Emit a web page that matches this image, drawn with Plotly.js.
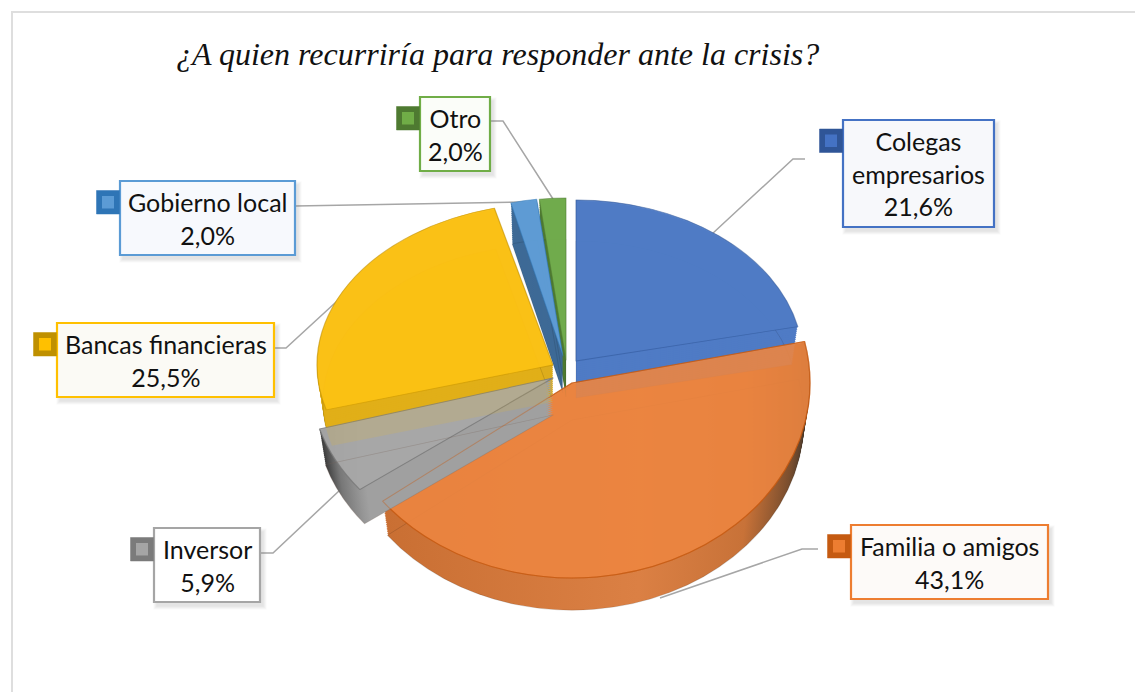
<!DOCTYPE html>
<html><head><meta charset="utf-8">
<script src="https://cdn.plot.ly/plotly-3.0.1.min.js"></script>
<style>html,body{margin:0;padding:0;background:#fff}#c{width:1135px;height:692px}</style>
</head><body><div id="c"></div>
<script>
const categories = ['Colegas<br>empresarios','Familia o amigos','Inversor','Bancas financieras','Gobierno local','Otro'];
const values = [21.6,43.1,5.9,25.5,2.0,2.0];
const faceColors = ['rgba(79,123,197,.95)','rgba(236,133,64,.9)','rgba(168,168,168,.95)','rgba(251,193,23,.97)','rgba(95,157,214,.97)','rgba(114,172,77,.97)'];
const wallColors = ['#4F7BC5','#DB7E42','#A0A0A0','#DDAD1C','#3E6A96','#4F7A32'];
const edgeColors = ['rgba(47,85,151,.55)','rgba(197,90,17,.75)','rgba(120,120,120,.8)','rgba(191,144,0,.6)','rgba(46,117,182,.5)','rgba(78,122,49,.5)'];
const boxColors = ['#4472C4','#ED7D31','#A5A5A5','#FFC000','#5B9BD5','#70AD47'];
const swatchColors = ['#2F5597','#C55A11','#7B7B7B','#BF9000','#2E75B6','#4E7A31'];
const boxFills = ['#F7F8FB','#FDFAF8','#FFFFFF','#FBFAF5','#F7F9FD','#FBFDF9'];
// per-slice box geometry: left, top, right, bottom
const boxes = [[843,120,994,227],[851,525,1048,599],[154,528,260,602],[57,323,274,397],[120,181,295,255],[420,97,490,171]];
const leaders = [
  'M805,159 L793,159 L712,234','M818,549 L802,549 L660,598','M260,553 L273,553 L340,490',
  'M274,348 L286,348 L360,280','M295,206 L525,202','M491,121 L503,121 L553,199'];
// perspective of each slice: apex x, apex y, half width, half height
const view = [[576,361,227,161],[572,383,238,195],[553,378,243,184],[553,365,236,162],[563,356,210,158],[566,360,213,162]];
const DEPTH = 37, STEP = 2, SHRINK = 0.025, R = 230, W = 1135, H = 692;
const px = x => x/W, py = y => 1-y/H;

const base = {type:'pie',labels:categories,values:values,sort:false,direction:'clockwise',rotation:0,
  textinfo:'none',hoverinfo:'skip',showlegend:false,
  domain:{x:[px(575-R),px(575+R)],y:[py(385+R),py(385-R)]}};
const clear = 'rgba(0,0,0,0)';
const none = values.map(()=>clear);
const only = (src,keep) => src.map((c,i)=>keep(i)?c:clear);
const traces = [], offsets = [], fills = [];
function add(colors,lineColors,lw,dy,fill){
  traces.push(Object.assign({},base,{marker:{colors:colors,line:{color:lineColors,width:lw}}}));
  offsets.push(dy); fills.push(fill||null);
}
const ORANGE=1, GRAY=2, YELLOW=3;
// orange side wall, then the walls of the slices behind it
for(let d=DEPTH;d>0;d-=STEP) add(only(wallColors,i=>i===ORANGE),none,0,d,'wallO');
for(let d=DEPTH;d>0;d-=STEP) add(only(wallColors,i=>i!==ORANGE&&i!==GRAY),none,0,d);
// rims of the lower faces, seen through the top
add(none,only(values.map(()=>'rgba(0,0,0,.14)'),i=>i!==GRAY),1,DEPTH);
// top faces except the grey one
add(only(faceColors,i=>i!==GRAY),only(edgeColors,i=>i!==GRAY),1.2,0);
// the grey slice stands in front of the orange one
for(let d=DEPTH;d>0;d-=STEP) add(only(wallColors,i=>i===GRAY),none,0,d,'wallG');
add(only(faceColors,i=>i===GRAY),only(edgeColors,i=>i===GRAY),1.2,0);
add(none,only(values.map(()=>'rgba(120,100,90,.3)'),i=>i===GRAY),1,DEPTH);
// yellow wall tint through grey, orange outline through grey
add(only(values.map(()=>'rgba(255,192,0,.13)'),i=>i===YELLOW),none,0,DEPTH);
add(none,only(values.map(()=>'rgba(197,90,17,.4)'),i=>i===ORANGE),1.2,0);

const shapes = [
  {type:'rect',layer:'below',xref:'paper',yref:'paper',x0:px(12),x1:px(1150),y0:py(12),y1:py(710),line:{color:'#DEDEDE',width:2},fillcolor:'#fff'}
];
const annotations = [];
leaders.forEach(p=>{
  const path = p.replace(/(\d+),(\d+)/g,(m,a,b)=>px(+a)+','+py(+b));
  shapes.push({type:'path',layer:'below',xref:'paper',yref:'paper',path:path,line:{color:'#A6A6A6',width:1.5}});
});
boxes.forEach((b,i)=>{
  const rect=(x0,y0,x1,y1,fill,line,lw)=>shapes.push({type:'rect',layer:'below',xref:'paper',yref:'paper',x0:px(x0),x1:px(x1),y0:py(y0),y1:py(y1),fillcolor:fill,line:{color:line,width:lw||0}});
  for(let s=7;s>=1;s-=2) rect(b[0]+3-s/2,b[1]+4-s/2,b[2]+3+s/2,b[3]+4+s/2,'rgba(120,120,120,.05)',clear,0);
  rect(b[0],b[1],b[2],b[3],boxFills[i],boxColors[i],2.2);
  const sy=b[1]+ (i===0?9:9.5);
  rect(b[0]-23.5,sy,b[0]-0.5,sy+23.5,swatchColors[i],swatchColors[i],0.5);
  rect(b[0]-18,sy+5.5,b[0]-6,sy+18,boxColors[i],boxColors[i],0);
  annotations.push({xref:'paper',yref:'paper',x:px((b[0]+b[2])/2),y:py((b[1]+b[3])/2+0.5),xanchor:'center',yanchor:'middle',showarrow:false,
    text:categories[i]+'<br>'+values[i].toFixed(1).replace('.',',')+'%',
    font:{family:'Lato, "Open Sans", sans-serif',size:25,color:'#111'},align:'center'});
});

const layout = {width:W,height:H,margin:{l:0,r:0,t:0,b:0},paper_bgcolor:'#fff',showlegend:false,
  title:{text:'¿A quien recurriría para responder ante la crisis?',xref:'paper',yref:'paper',x:px(176),xanchor:'left',y:py(54),yanchor:'middle',
    font:{family:'"Liberation Serif", serif',size:32,color:'#111',style:'italic'}},
  shapes:shapes,annotations:annotations};

const gd = document.getElementById('c');
Plotly.newPlot(gd,traces,layout,{displayModeBar:false,staticPlot:true}).then(()=>{
  const svg = gd.querySelector('svg.main-svg');
  const ns='http://www.w3.org/2000/svg';
  const defs = svg.querySelector('defs')||svg.insertBefore(document.createElementNS(ns,'defs'),svg.firstChild);
  function grad(id,stops){
    const g=document.createElementNS(ns,'linearGradient');g.setAttribute('id',id);
    stops.forEach(s=>{const e=document.createElementNS(ns,'stop');e.setAttribute('offset',s[0]);e.setAttribute('stop-color',s[1]);g.appendChild(e);});
    defs.appendChild(g);
  }
  grad('wallO',[[0,'#C96F33'],[.6,'#DB8044'],[.85,'#C87238'],[.96,'#7A4E2E'],[1,'#4A3A2C']]);
  grad('wallG',[[0,'#3A3A3A'],[.08,'#777777'],[.2,'#A0A0A0'],[1,'#A0A0A0']]);
  gd.querySelectorAll('.pielayer .trace').forEach((tr,k)=>{
    const cd=gd.calcdata[k][0];
    const f=1-SHRINK*offsets[k]/DEPTH;
    tr.querySelectorAll('.slice').forEach((sl,i)=>{
      const v=view[i];
      sl.setAttribute('transform','translate('+v[0]+','+(v[1]+offsets[k])+') scale('+(f*v[2]/cd.r)+','+(f*v[3]/cd.r)+') translate('+(-cd.cx)+','+(-cd.cy)+')');
      const p=sl.querySelector('path');
      if(fills[k]==='wallO'&&i===ORANGE)p.style.fill='url(#wallO)';
      if(fills[k]==='wallG'&&i===GRAY)p.style.fill='url(#wallG)';
    });
  });
  document.body.setAttribute('data-ready','1');
});
</script></body></html>
